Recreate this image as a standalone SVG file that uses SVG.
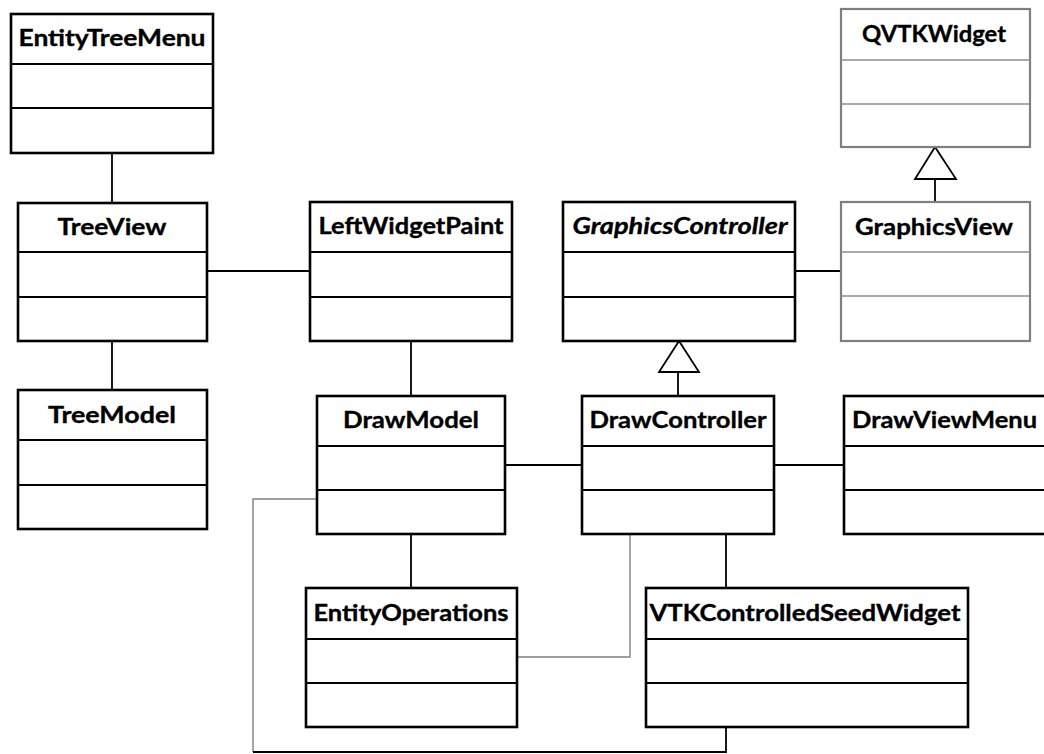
<svg xmlns="http://www.w3.org/2000/svg" width="1044" height="754" viewBox="0 0 1044 754">
  <style>
    .box { fill: #ffffff; stroke: #000000; stroke-width: 2.6; }
    .div { stroke: #000000; stroke-width: 2; }
    .ext .box { stroke: #7f7f7f; stroke-width: 2.2; }
    .ext .div { stroke: #8c8c8c; stroke-width: 1.6; }
    .name { font-family: Lato, "Liberation Sans", sans-serif; font-weight: bold; font-size: 23px; fill: #000000; stroke: #000000; stroke-width: 0.35; text-anchor: middle; }
    .abstract { font-style: italic; }
    .assoc { fill: none; stroke: #000000; stroke-width: 1.8; }
    .thin { fill: none; stroke: #808080; stroke-width: 1.4; }
    .gen { fill: #ffffff; stroke: #000000; stroke-width: 1.8; }
  </style>
  <rect width="1044" height="754" fill="#ffffff"/>

  <!-- associations and generalizations -->
  <g id="connectors">
    <path class="assoc" d="M112 153 V203"/>
    <path class="assoc" d="M112 341 V390"/>
    <path class="assoc" d="M207 271 H310"/>
    <path class="assoc" d="M411 341 V396"/>
    <path class="assoc" d="M795 271 H841"/>
    <path class="assoc" d="M505 465 H582"/>
    <path class="assoc" d="M774 465 H844"/>
    <path class="assoc" d="M411 534 V588"/>
    <path class="assoc" d="M726 534 V588"/>
    <path class="thin" d="M630 534 V657 H517"/>
    <path class="thin" d="M317 499 H253 V752"/>
    <path class="assoc" d="M253 752 H726 V727"/>
    <!-- DrawController extends GraphicsController -->
    <path class="assoc" d="M678 396 V372"/>
    <polygon class="gen" points="659,372 699,372 679,341"/>
    <!-- GraphicsView extends QVTKWidget -->
    <path class="assoc" d="M935 202 V179"/>
    <polygon class="gen" points="915,179 956,179 935,147"/>
  </g>

  <g id="EntityTreeMenu">
    <rect class="box" x="11" y="14" width="202" height="139"/>
    <line class="div" x1="11" y1="64" x2="213" y2="64"/>
    <line class="div" x1="11" y1="108" x2="213" y2="108"/>
    <text class="name" x="112" y="46" textLength="187" lengthAdjust="spacingAndGlyphs">EntityTreeMenu</text>
  </g>

  <g id="TreeView">
    <rect class="box" x="18" y="203" width="189" height="138"/>
    <line class="div" x1="18" y1="252" x2="207" y2="252"/>
    <line class="div" x1="18" y1="297" x2="207" y2="297"/>
    <text class="name" x="112" y="235" textLength="109" lengthAdjust="spacingAndGlyphs">TreeView</text>
  </g>

  <g id="TreeModel">
    <rect class="box" x="18" y="390" width="189" height="139"/>
    <line class="div" x1="18" y1="440" x2="207" y2="440"/>
    <line class="div" x1="18" y1="485" x2="207" y2="485"/>
    <text class="name" x="112" y="423" textLength="128" lengthAdjust="spacingAndGlyphs">TreeModel</text>
  </g>

  <g id="LeftWidgetPaint">
    <rect class="box" x="310" y="202" width="202" height="139"/>
    <line class="div" x1="310" y1="252" x2="512" y2="252"/>
    <line class="div" x1="310" y1="297" x2="512" y2="297"/>
    <text class="name" x="411" y="234" textLength="185" lengthAdjust="spacingAndGlyphs">LeftWidgetPaint</text>
  </g>

  <g id="GraphicsController">
    <rect class="box" x="563" y="202" width="232" height="139"/>
    <line class="div" x1="563" y1="252" x2="795" y2="252"/>
    <line class="div" x1="563" y1="297" x2="795" y2="297"/>
    <text class="name abstract" x="680" y="234" textLength="215" lengthAdjust="spacingAndGlyphs">GraphicsController</text>
  </g>

  <g id="QVTKWidget" class="ext">
    <rect class="box" x="841" y="9" width="189" height="138"/>
    <line class="div" x1="841" y1="60" x2="1030" y2="60"/>
    <line class="div" x1="841" y1="104" x2="1030" y2="104"/>
    <text class="name" x="934" y="42" textLength="144" lengthAdjust="spacingAndGlyphs">QVTKWidget</text>
  </g>

  <g id="GraphicsView" class="ext">
    <rect class="box" x="841" y="202" width="189" height="139"/>
    <line class="div" x1="841" y1="252" x2="1030" y2="252"/>
    <line class="div" x1="841" y1="296" x2="1030" y2="296"/>
    <text class="name" x="934" y="235" textLength="158" lengthAdjust="spacingAndGlyphs">GraphicsView</text>
  </g>

  <g id="DrawModel">
    <rect class="box" x="317" y="396" width="188" height="138"/>
    <line class="div" x1="317" y1="446" x2="505" y2="446"/>
    <line class="div" x1="317" y1="490" x2="505" y2="490"/>
    <text class="name" x="411" y="428" textLength="136" lengthAdjust="spacingAndGlyphs">DrawModel</text>
  </g>

  <g id="DrawController">
    <rect class="box" x="582" y="396" width="192" height="138"/>
    <line class="div" x1="582" y1="446" x2="774" y2="446"/>
    <line class="div" x1="582" y1="490" x2="774" y2="490"/>
    <text class="name" x="678" y="428" textLength="177" lengthAdjust="spacingAndGlyphs">DrawController</text>
  </g>

  <g id="DrawViewMenu">
    <rect class="box" x="844" y="396" width="210" height="138"/>
    <line class="div" x1="844" y1="446" x2="1054" y2="446"/>
    <line class="div" x1="844" y1="490" x2="1054" y2="490"/>
    <text class="name" x="944.5" y="428" textLength="185" lengthAdjust="spacingAndGlyphs">DrawViewMenu</text>
  </g>

  <g id="EntityOperations">
    <rect class="box" x="306" y="588" width="211" height="139"/>
    <line class="div" x1="306" y1="639" x2="517" y2="639"/>
    <line class="div" x1="306" y1="683" x2="517" y2="683"/>
    <text class="name" x="411" y="621" textLength="195" lengthAdjust="spacingAndGlyphs">EntityOperations</text>
  </g>

  <g id="VTKControlledSeedWidget">
    <rect class="box" x="646" y="588" width="322" height="139"/>
    <line class="div" x1="646" y1="639" x2="968" y2="639"/>
    <line class="div" x1="646" y1="683" x2="968" y2="683"/>
    <text class="name" x="805" y="621" textLength="311" lengthAdjust="spacingAndGlyphs">VTKControlledSeedWidget</text>
  </g>
</svg>
